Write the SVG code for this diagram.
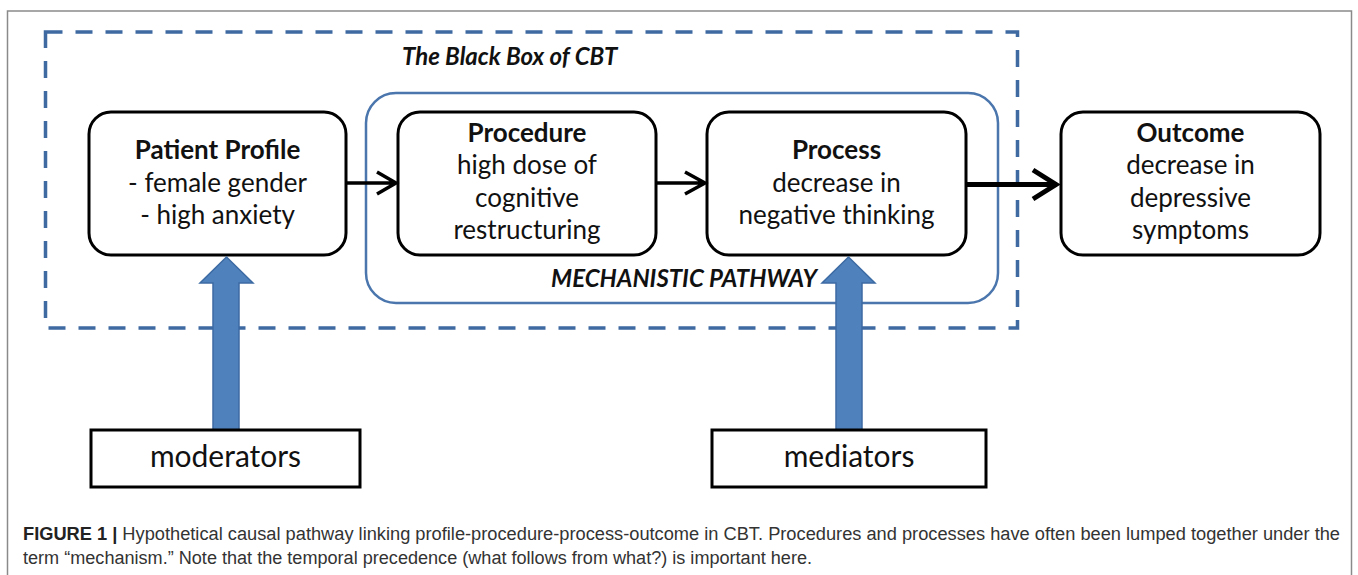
<svg xmlns="http://www.w3.org/2000/svg" width="1358" height="575" viewBox="0 0 1358 575">
<defs>
<style>
.box{fill:#fff;stroke:#000;stroke-width:3}
.sq{fill:#fff;stroke:#000;stroke-width:3}
.t{font-family:Lato,"Liberation Sans",sans-serif;font-size:26px;fill:#111;text-anchor:middle}
.b{font-weight:bold}
.ti{font-family:Lato,"Liberation Sans",sans-serif;font-size:24px;font-weight:bold;font-style:italic;fill:#111}
.big{font-family:Lato,"Liberation Sans",sans-serif;font-size:30px;fill:#111;text-anchor:middle}
.blk{fill:#4f81bd;stroke:#3c6aa3;stroke-width:1.5}
.con{fill:none;stroke:#000;stroke-linecap:butt;stroke-linejoin:miter}
.cap{font-family:"Liberation Sans",Arial,sans-serif;font-size:18px;fill:#333}
</style>
</defs>
<rect x="0" y="0" width="1358" height="575" fill="#fff"/>
<rect x="7.5" y="11" width="1344" height="580" fill="none" stroke="#8a8a8a" stroke-width="1.5"/>
<g id="blackbox">
<rect x="45.5" y="32" width="972" height="296" fill="none" stroke="#3e6aa1" stroke-width="3.5" stroke-dasharray="17 13"/>
<text class="ti" x="402" y="65">The Black Box of CBT</text>
</g>
<g id="mechanistic">
<rect x="366" y="93" width="632" height="210" rx="30" fill="none" stroke="#4a76ad" stroke-width="2.5"/>
<text class="ti" x="817" y="287" text-anchor="end">MECHANISTIC PATHWAY</text>
</g>
<g id="patient">
<rect class="box" x="89" y="112" width="257" height="143" rx="22"/>
<text class="t b" x="217.5" y="159">Patient Profile</text>
<text class="t" x="217.5" y="192">- female gender</text>
<text class="t" x="217.5" y="224">- high anxiety</text>
</g>
<g id="procedure">
<rect class="box" x="398" y="112" width="258" height="143" rx="22"/>
<text class="t b" x="527" y="142">Procedure</text>
<text class="t" x="527" y="174">high dose of</text>
<text class="t" x="527" y="207">cognitive</text>
<text class="t" x="527" y="239">restructuring</text>
</g>
<g id="process">
<rect class="box" x="707" y="112" width="259" height="143" rx="22"/>
<text class="t b" x="836.5" y="159">Process</text>
<text class="t" x="836.5" y="192">decrease in</text>
<text class="t" x="836.5" y="224">negative thinking</text>
</g>
<g id="outcome">
<rect class="box" x="1061" y="112" width="259" height="143" rx="22"/>
<text class="t b" x="1190.5" y="142">Outcome</text>
<text class="t" x="1190.5" y="174">decrease in</text>
<text class="t" x="1190.5" y="207">depressive</text>
<text class="t" x="1190.5" y="239">symptoms</text>
</g>
<g id="connectors">
<path class="con" stroke-width="3.5" d="M346,183 H395 M377,172 L396,183 L377,194"/>
<path class="con" stroke-width="3.5" d="M656,183 H704 M685,172 L705,183 L685,194"/>
<path class="con" stroke-width="5" d="M966,184.5 H1055 M1033,170 L1056,184.5 L1033,199"/>
<polygon class="blk" points="226.5,257 200,283 213,283 213,430 239,430 239,283 253,283"/>
<polygon class="blk" points="848.5,257 822,283 836,283 836,430 862,430 862,283 875,283"/>
</g>
<g id="moderators">
<rect class="sq" x="91" y="430" width="269" height="57"/>
<text class="big" x="225.5" y="467">moderators</text>
</g>
<g id="mediators">
<rect class="sq" x="712" y="430" width="274" height="57"/>
<text class="big" x="849" y="467">mediators</text>
</g>
<g id="caption">
<text class="cap" x="23" y="540" textLength="1317" lengthAdjust="spacingAndGlyphs"><tspan font-weight="bold" fill="#222">FIGURE 1 |</tspan> Hypothetical causal pathway linking profile-procedure-process-outcome in CBT. Procedures and processes have often been lumped together under the</text>
<text class="cap" x="23" y="564" textLength="789" lengthAdjust="spacingAndGlyphs">term “mechanism.” Note that the temporal precedence (what follows from what?) is important here.</text>
</g>
</svg>
